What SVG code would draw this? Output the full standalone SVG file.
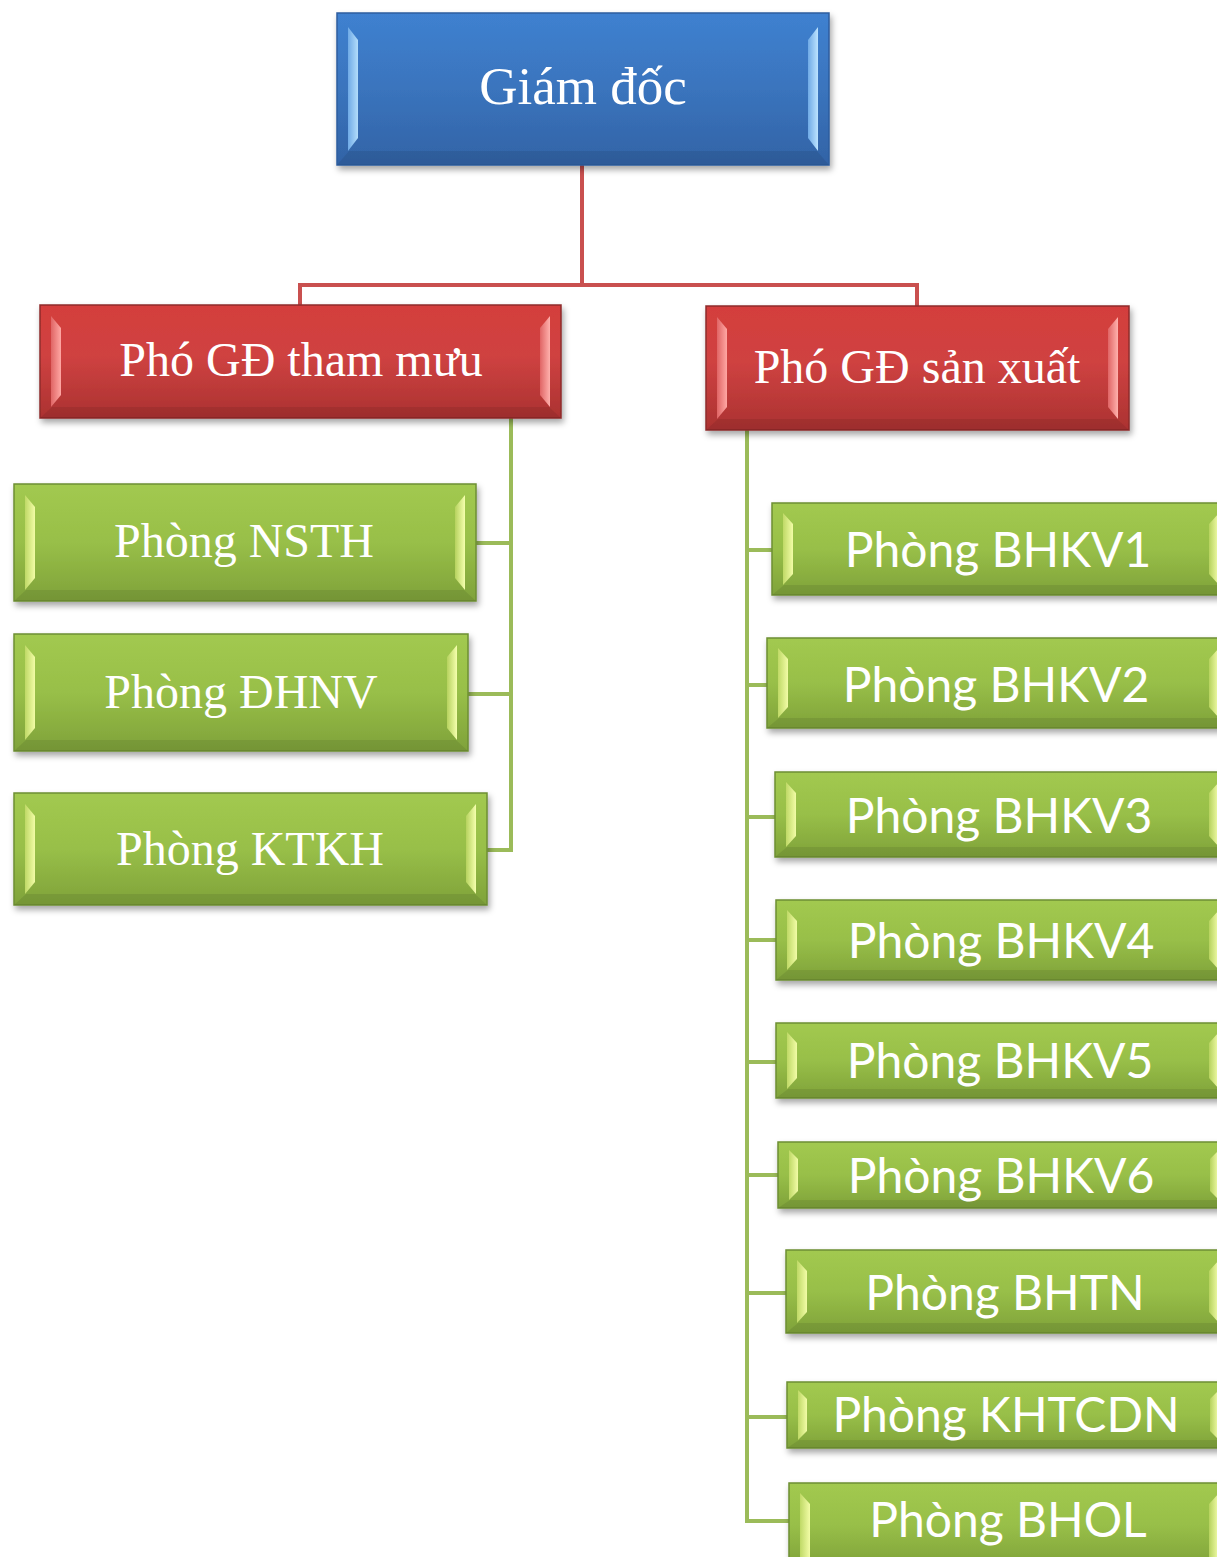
<svg xmlns="http://www.w3.org/2000/svg" width="1217" height="1557" viewBox="0 0 1217 1557">
<defs>
<style>
.txs{font-family:"Liberation Serif","Times New Roman",serif;fill:#fff;text-anchor:middle}
.txa{font-family:Lato,"Open Sans","Liberation Sans",sans-serif;fill:#fff;text-anchor:middle;font-size:48px}
.cr{fill:none;stroke:#C9504F;stroke-width:4}
.cg{fill:none;stroke:#9BBB59;stroke-width:4}
.bb{fill:url(#gB);stroke:#2D5D9E;stroke-width:1.5}
.br{fill:url(#gR);stroke:#8E2B2B;stroke-width:1.5}
.bg{fill:url(#gG);stroke:#6E8F33;stroke-width:1.5}
.hbl{fill:url(#hB)}.hbr{fill:url(#hB2)}
.hrl{fill:url(#hR)}.hrr{fill:url(#hR2)}
.hgl{fill:url(#hG)}.hgr{fill:url(#hG2)}
.dk{fill:#000;opacity:0.08}
</style>
<filter id="sh" x="-5%" y="-10%" width="115%" height="130%">
<feDropShadow dx="2" dy="4" stdDeviation="3" flood-color="#000" flood-opacity="0.35"/>
</filter>
<linearGradient id="gB" x1="0" y1="0" x2="0" y2="1"><stop offset="0" stop-color="#3F81D0"/><stop offset="0.5" stop-color="#3A74BD"/><stop offset="1" stop-color="#3263A6"/></linearGradient>
<linearGradient id="gR" x1="0" y1="0" x2="0" y2="1"><stop offset="0" stop-color="#D43E3C"/><stop offset="0.45" stop-color="#CF4241"/><stop offset="1" stop-color="#AB3231"/></linearGradient>
<linearGradient id="gG" x1="0" y1="0" x2="0" y2="1"><stop offset="0" stop-color="#A2C950"/><stop offset="0.5" stop-color="#98BF48"/><stop offset="1" stop-color="#7FA23A"/></linearGradient>
<linearGradient id="hB" x1="0" y1="0" x2="1" y2="0"><stop offset="0" stop-color="#6FAAE6"/><stop offset="1" stop-color="#B3DDFB"/></linearGradient>
<linearGradient id="hB2" x1="0" y1="0" x2="1" y2="0"><stop offset="0" stop-color="#6FAAE6"/><stop offset="1" stop-color="#BCE3FF"/></linearGradient>
<linearGradient id="hR" x1="0" y1="0" x2="1" y2="0"><stop offset="0" stop-color="#E06565"/><stop offset="1" stop-color="#FFA7A3"/></linearGradient>
<linearGradient id="hR2" x1="0" y1="0" x2="1" y2="0"><stop offset="0" stop-color="#E06565"/><stop offset="1" stop-color="#FFB1AD"/></linearGradient>
<linearGradient id="hG" x1="0" y1="0" x2="1" y2="0"><stop offset="0" stop-color="#BFD966"/><stop offset="1" stop-color="#F2FCA6"/></linearGradient>
<linearGradient id="hG2" x1="0" y1="0" x2="1" y2="0"><stop offset="0" stop-color="#B6D25E"/><stop offset="1" stop-color="#F5FFAD"/></linearGradient>
</defs>
<rect width="1217" height="1557" fill="#fff"/>

<g id="connectors">
<path class="cr" d="M582,165 V285 M300,305 V285 H917 V306"/>
<path class="cg" d="M511,418 V850 H487 M511,543 H476 M511,694 H468"/>
<path class="cg" d="M747,430 V1521 H789 M747,550 H772 M747,685 H767 M747,817 H775 M747,940 H776 M747,1062 H776 M747,1175 H778 M747,1293 H786 M747,1417 H787"/>
</g>

<g id="giam-doc" transform="translate(337,13)">
<rect class="bb" width="492" height="152" filter="url(#sh)"/>
<polygon class="dk" points="0,152 492,152 480,138 12,138"/>
<polygon class="hbl" points="11,14 21,27 21,125 11,138"/>
<polygon class="hbr" points="471,27 481,14 481,138 471,125"/>
<text class="txs" x="246" y="91" font-size="53">Giám đốc</text>
</g>

<g id="pho-gd-tham-muu" transform="translate(40,305)">
<rect class="br" width="521" height="113" filter="url(#sh)"/>
<polygon class="dk" points="0,113 521,113 509,102 12,102"/>
<polygon class="hrl" points="11,11 21,23 21,90 11,102"/>
<polygon class="hrr" points="500,23 510,11 510,102 500,90"/>
<text class="txs" x="261" y="71" font-size="48">Phó GĐ tham mưu</text>
</g>

<g id="pho-gd-san-xuat" transform="translate(706,306)">
<rect class="br" width="423" height="124" filter="url(#sh)"/>
<polygon class="dk" points="0,124 423,124 411,113 12,113"/>
<polygon class="hrl" points="11,11 21,23 21,101 11,113"/>
<polygon class="hrr" points="402,23 412,11 412,113 402,101"/>
<text class="txs" x="211" y="77" font-size="48">Phó GĐ sản xuất</text>
</g>

<g id="phong-nsth" transform="translate(14,484)">
<rect class="bg" width="462" height="117" filter="url(#sh)"/>
<polygon class="dk" points="0,117 462,117 450,106 12,106"/>
<polygon class="hgl" points="11,11 21,23 21,94 11,106"/>
<polygon class="hgr" points="441,23 451,11 451,106 441,94"/>
<text class="txs" x="230" y="73" font-size="48">Phòng NSTH</text>
</g>

<g id="phong-dhnv" transform="translate(14,634)">
<rect class="bg" width="454" height="117" filter="url(#sh)"/>
<polygon class="dk" points="0,117 454,117 442,106 12,106"/>
<polygon class="hgl" points="11,11 21,23 21,94 11,106"/>
<polygon class="hgr" points="433,23 443,11 443,106 433,94"/>
<text class="txs" x="227" y="74" font-size="48">Phòng ĐHNV</text>
</g>

<g id="phong-ktkh" transform="translate(14,793)">
<rect class="bg" width="473" height="112" filter="url(#sh)"/>
<polygon class="dk" points="0,112 473,112 461,101 12,101"/>
<polygon class="hgl" points="11,11 21,23 21,89 11,101"/>
<polygon class="hgr" points="452,23 462,11 462,101 452,89"/>
<text class="txs" x="236" y="72" font-size="48">Phòng KTKH</text>
</g>

<g id="phong-bhkv1" transform="translate(772,503)">
<rect class="bg" width="458" height="92" filter="url(#sh)"/>
<polygon class="dk" points="0,92 458,92 446,82 12,82"/>
<polygon class="hgl" points="11,10 21,21 21,71 11,82"/>
<polygon class="hgr" points="437,21 447,10 447,82 437,71"/>
<text class="txa" x="226" y="64">Phòng BHKV1</text>
</g>

<g id="phong-bhkv2" transform="translate(767,638)">
<rect class="bg" width="463" height="90" filter="url(#sh)"/>
<polygon class="dk" points="0,90 463,90 451,80 12,80"/>
<polygon class="hgl" points="11,10 21,21 21,69 11,80"/>
<polygon class="hgr" points="442,21 452,10 452,80 442,69"/>
<text class="txa" x="229" y="64">Phòng BHKV2</text>
</g>

<g id="phong-bhkv3" transform="translate(775,772)">
<rect class="bg" width="455" height="85" filter="url(#sh)"/>
<polygon class="dk" points="0,85 455,85 443,75 12,75"/>
<polygon class="hgl" points="11,10 21,21 21,64 11,75"/>
<polygon class="hgr" points="434,21 444,10 444,75 434,64"/>
<text class="txa" x="224" y="61">Phòng BHKV3</text>
</g>

<g id="phong-bhkv4" transform="translate(776,900)">
<rect class="bg" width="454" height="80" filter="url(#sh)"/>
<polygon class="dk" points="0,80 454,80 442,70 12,70"/>
<polygon class="hgl" points="11,10 21,21 21,59 11,70"/>
<polygon class="hgr" points="433,21 443,10 443,70 433,59"/>
<text class="txa" x="225" y="58">Phòng BHKV4</text>
</g>

<g id="phong-bhkv5" transform="translate(776,1023)">
<rect class="bg" width="454" height="75" filter="url(#sh)"/>
<polygon class="dk" points="0,75 454,75 442,66 12,66"/>
<polygon class="hgl" points="11,9 21,20 21,55 11,66"/>
<polygon class="hgr" points="433,20 443,9 443,66 433,55"/>
<text class="txa" x="224" y="55">Phòng BHKV5</text>
</g>

<g id="phong-bhkv6" transform="translate(778,1142)">
<rect class="bg" width="452" height="66" filter="url(#sh)"/>
<polygon class="dk" points="0,66 452,66 440,58 12,58"/>
<polygon class="hgl" points="11,8 20,17 20,49 11,58"/>
<polygon class="hgr" points="432,17 441,8 441,58 432,49"/>
<text class="txa" x="223" y="51">Phòng BHKV6</text>
</g>

<g id="phong-bhtn" transform="translate(786,1250)">
<rect class="bg" width="444" height="83" filter="url(#sh)"/>
<polygon class="dk" points="0,83 444,83 432,73 12,73"/>
<polygon class="hgl" points="11,10 21,21 21,62 11,73"/>
<polygon class="hgr" points="423,21 433,10 433,73 423,62"/>
<text class="txa" x="219" y="60">Phòng BHTN</text>
</g>

<g id="phong-khtcdn" transform="translate(787,1382)">
<rect class="bg" width="443" height="66" filter="url(#sh)"/>
<polygon class="dk" points="0,66 443,66 431,58 12,58"/>
<polygon class="hgl" points="11,8 20,17 20,49 11,58"/>
<polygon class="hgr" points="423,17 432,8 432,58 423,49"/>
<text class="txa" x="219" y="50">Phòng KHTCDN</text>
</g>

<g id="phong-bhol" transform="translate(789,1483)">
<rect class="bg" width="441" height="84" filter="url(#sh)"/>
<polygon class="hgl" points="11,10 21,21 21,80 11,84"/>
<polygon class="hgr" points="420,21 430,10 430,84 420,80"/>
<text class="txa" x="219" y="54">Phòng BHOL</text>
</g>
</svg>
